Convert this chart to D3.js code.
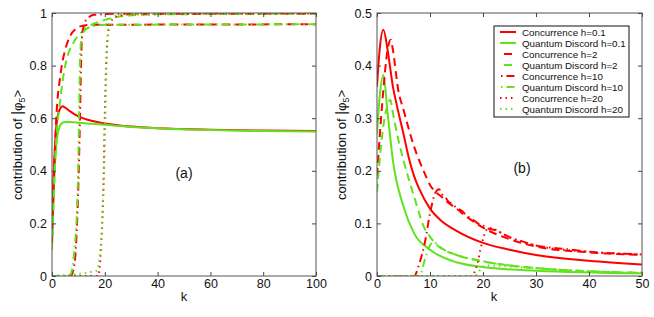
<!DOCTYPE html>
<html>
<head>
<meta charset="utf-8">
<script src="https://cdn.jsdelivr.net/npm/d3@7"></script>
<style>
  body { margin: 0; background: #fff; }
  svg { font-family: "Liberation Sans", Arial, sans-serif; }
</style>
</head>
<body>
<div id="chart"></div>
<script>
// panel (a): [k, value]
var aConc01 = [[0,0.2],[0.5,0.36],[1,0.47],[1.5,0.55],[2,0.6],[3,0.635],[4,0.645],[5,0.64],[7,0.625],[10,0.607],[15,0.59],[20,0.58],[30,0.568],[40,0.562],[60,0.556],[80,0.553],[100,0.551]];
var aQD01 = [[0,0.12],[0.5,0.27],[1,0.4],[1.5,0.48],[2,0.53],[3,0.57],[4,0.583],[5,0.586],[8,0.585],[10,0.583],[15,0.579],[20,0.575],[30,0.567],[40,0.562],[60,0.555],[80,0.551],[100,0.549]];
var aConc2 = [[0,0.13],[0.5,0.3],[1,0.45],[1.5,0.58],[2,0.66],[3,0.75],[3.7,0.8],[5,0.86],[7,0.915],[9,0.94],[11,0.95],[15,0.955],[100,0.957]];
var aQD2 = [[0,0.1],[0.5,0.25],[1,0.4],[1.5,0.5],[2,0.57],[3,0.66],[4,0.74],[5,0.8],[6,0.84],[8,0.885],[12,0.935],[19,0.97],[28,0.99],[40,0.995],[100,0.997]];
var aConc10 = [[0,0],[7,0],[8,0.02],[9,0.1],[10,0.35],[10.6,0.6],[11,0.8],[11.3,0.9],[12,0.95],[13.5,0.98],[16,0.993],[25,0.997],[100,0.998]];
var aQD10 = [[0,0],[6.5,0],[7.5,0.02],[8.5,0.1],[9.5,0.26],[10,0.45],[10.4,0.7],[10.7,0.85],[11.5,0.92],[14,0.945],[20,0.955],[100,0.957]];
var aConc20 = [[0,0],[17.5,0],[18.5,0.1],[19.5,0.35],[20.2,0.7],[21,0.9],[22,0.96],[24,0.985],[30,0.995],[100,0.998]];
var aQD20 = [[0,0],[17,0.02],[18,0.07],[19,0.2],[20,0.5],[20.7,0.82],[21.3,0.93],[22,0.97],[24,0.99],[30,0.996],[100,0.998]];

// panel (b)
var bConc01 = [[0,0.36],[0.5,0.43],[1.2,0.468],[2,0.43],[3,0.36],[3.8,0.322],[5,0.27],[6,0.225],[7,0.19],[8,0.165],[10,0.128],[12,0.106],[15,0.086],[20,0.063],[25,0.05],[30,0.04],[40,0.029],[50,0.022]];
var bQD01 = [[0,0.27],[0.5,0.34],[1.2,0.382],[2,0.31],[3,0.22],[5,0.132],[7,0.081],[10,0.05],[15,0.026],[20,0.017],[30,0.01],[50,0.005]];
var bConc2 = [[0,0.19],[1,0.33],[2,0.43],[2.6,0.449],[3,0.43],[4,0.354],[5,0.316],[7,0.246],[9,0.195],[10,0.173],[11,0.16],[12,0.152],[13,0.143],[15,0.128],[17,0.112],[20,0.092],[25,0.07],[30,0.056],[40,0.045],[50,0.04]];
var bQD2 = [[0,0.16],[1,0.27],[2,0.325],[2.5,0.335],[3,0.31],[4,0.26],[5,0.22],[7,0.151],[9,0.09],[10,0.075],[11,0.062],[15,0.04],[20,0.028],[30,0.015],[40,0.009],[50,0.006]];
var bConc10 = [[0,0],[7,0],[8,0.024],[9,0.062],[10,0.119],[11,0.158],[11.7,0.165],[12.5,0.152],[13,0.148],[13.5,0.141],[14,0.138],[15,0.13],[16,0.124],[17,0.114],[18,0.108],[19,0.1],[20,0.096],[21,0.09],[22,0.088],[25,0.074],[28,0.064],[30,0.058],[35,0.052],[40,0.046],[45,0.043],[50,0.041]];
var bQD10 = [[0,0],[8,0],[9,0.03],[10,0.058],[10.7,0.065],[11.5,0.058],[13,0.048],[15,0.04],[20,0.028],[30,0.015],[40,0.009],[50,0.006]];
var bConc20 = [[0,0],[18,0],[18.5,0.01],[19,0.025],[19.5,0.05],[20,0.07],[20.5,0.085],[21,0.092],[25,0.073],[30,0.058],[40,0.046],[50,0.041]];
var bQD20 = [[0,0],[18.5,0],[19,0.005],[19.5,0.012],[20,0.018],[21,0.02],[25,0.018],[30,0.015],[40,0.009],[50,0.006]];

var legendLabels = ["Concurrence h=0.1", "Quantum Discord h=0.1", "Concurrence h=2", "Quantum Discord h=2",
    "Concurrence h=10", "Quantum Discord h=10", "Concurrence h=20", "Quantum Discord h=20"];

var aTicksX = [0, 20, 40, 60, 80, 100];
var aTicksY = [0, 0.2, 0.4, 0.6, 0.8, 1];
var bTicksX = [0, 10, 20, 30, 40, 50];
var bTicksY = [0, 0.1, 0.2, 0.3, 0.4, 0.5];

var RED = "#ff0000";
var GREEN = "#62e21c";
var styles = [
    { color: RED, dash: null },
    { color: GREEN, dash: null },
    { color: RED, dash: "8,5" },
    { color: GREEN, dash: "8,5" },
    { color: RED, dash: "8,4,1.5,4" },
    { color: GREEN, dash: "8,4,1.5,4" },
    { color: RED, dash: "1.5,4" },
    { color: GREEN, dash: "1.5,4" }
];

var svg = d3.select("#chart")
    .append("svg")
    .attr("width", 654)
    .attr("height", 317);

drawPanel({
    left: 52, top: 13, w: 264, h: 263,
    xMax: 100, yMax: 1, ticksX: aTicksX, ticksY: aTicksY,
    series: [aConc01, aQD01, aConc2, aQD2, aConc10, aQD10, aConc20, aQD20],
    tag: "(a)", tagX: 184, tagY: 178, labelX: 22, kX: 184
});

drawPanel({
    left: 377, top: 13, w: 265, h: 263,
    xMax: 50, yMax: 0.5, ticksX: bTicksX, ticksY: bTicksY,
    series: [bConc01, bQD01, bConc2, bQD2, bConc10, bQD10, bConc20, bQD20],
    tag: "(b)", tagX: 522, tagY: 173, labelX: 346, kX: 494
});

drawLegend(494, 26);

function drawPanel(p) {
    var x = d3.scaleLinear().domain([0, p.xMax]).range([0, p.w]);
    var y = d3.scaleLinear().domain([0, p.yMax]).range([p.h, 0]);

    var g = svg.append("g")
        .attr("transform", `translate(${p.left}, ${p.top})`);

    var clipId = "clip" + p.left;
    g.append("clipPath").attr("id", clipId)
        .append("rect").attr("width", p.w).attr("height", p.h);

    var line = d3.line()
        .x(function(d) { return x(d[0]) })
        .y(function(d) { return y(d[1]) })
        .curve(d3.curveMonotoneX);

    var lines = g.append("g").attr("clip-path", `url(#${clipId})`);
    p.series.forEach(function(s, i) {
        lines.append("path")
            .attr("d", line(s))
            .attr("fill", "none")
            .attr("stroke", styles[i].color)
            .attr("stroke-width", 2)
            .attr("stroke-dasharray", styles[i].dash);
    });

    // ticks point inward on all four sides
    var fmt = d3.format("~g");
    var axes = [
        { a: d3.axisBottom(x).tickValues(p.ticksX), t: `translate(0, ${p.h})`, lab: true },
        { a: d3.axisTop(x).tickValues(p.ticksX), t: "translate(0, 0)", lab: false },
        { a: d3.axisLeft(y).tickValues(p.ticksY), t: "translate(0, 0)", lab: true },
        { a: d3.axisRight(y).tickValues(p.ticksY), t: `translate(${p.w}, 0)`, lab: false }
    ];
    axes.forEach(function(ax, i) {
        ax.a.tickSizeInner(-4).tickSizeOuter(0).tickPadding(i == 0 ? 3 : 5);
        ax.a.tickFormat(ax.lab ? fmt : "");
        var ag = g.append("g").attr("transform", ax.t).call(ax.a);
        ag.select(".domain").remove();
        ag.selectAll("line").attr("stroke", "#444");
        ag.selectAll("text")
            .attr("font-size", 12.5)
            .attr("font-family", "Liberation Sans, Arial, sans-serif")
            .attr("fill", "#111");
    });

    g.append("rect")
        .attr("width", p.w)
        .attr("height", p.h)
        .attr("fill", "none")
        .attr("stroke", "#555")
        .attr("stroke-width", 1);

    svg.append("text")
        .attr("x", p.tagX)
        .attr("y", p.tagY)
        .attr("text-anchor", "middle")
        .attr("font-size", 14)
        .attr("fill", "#111")
        .text(p.tag);

    svg.append("text")
        .attr("x", p.kX)
        .attr("y", 301)
        .attr("text-anchor", "middle")
        .attr("font-size", 13)
        .attr("fill", "#111")
        .text("k");

    var yl = svg.append("text")
        .attr("transform", `translate(${p.labelX}, 145) rotate(-90)`)
        .attr("text-anchor", "middle")
        .attr("font-size", 13)
        .attr("fill", "#111");
    yl.append("tspan").text("contribution of ");
    yl.append("tspan").attr("font-size", 15).text("|");
    yl.append("tspan").text("\u03c6");
    yl.append("tspan").attr("font-size", 9).attr("dy", 3).text("5");
    yl.append("tspan").attr("dy", -3).text(">");
}

function drawLegend(lx, ly) {
    var lg = svg.append("g")
        .attr("transform", `translate(${lx}, ${ly})`);

    lg.append("rect")
        .attr("width", 135)
        .attr("height", 91)
        .attr("fill", "#fff")
        .attr("stroke", "#111")
        .attr("stroke-width", 1);

    var offsets = [0, 0, 9, 9, 11, 11, 0, 0];
    legendLabels.forEach(function(lab, i) {
        var yy = 6 + i * 11;
        lg.append("line")
            .attr("x1", 6).attr("x2", 22)
            .attr("y1", yy).attr("y2", yy)
            .attr("stroke", styles[i].color)
            .attr("stroke-width", 2)
            .attr("stroke-dasharray", styles[i].dash)
            .attr("stroke-dashoffset", offsets[i]);
        lg.append("text")
            .attr("x", 28)
            .attr("y", yy + 3.6)
            .attr("font-size", 9.8)
            .attr("fill", "#111")
            .text(lab);
    });
}
</script>
</body>
</html>
